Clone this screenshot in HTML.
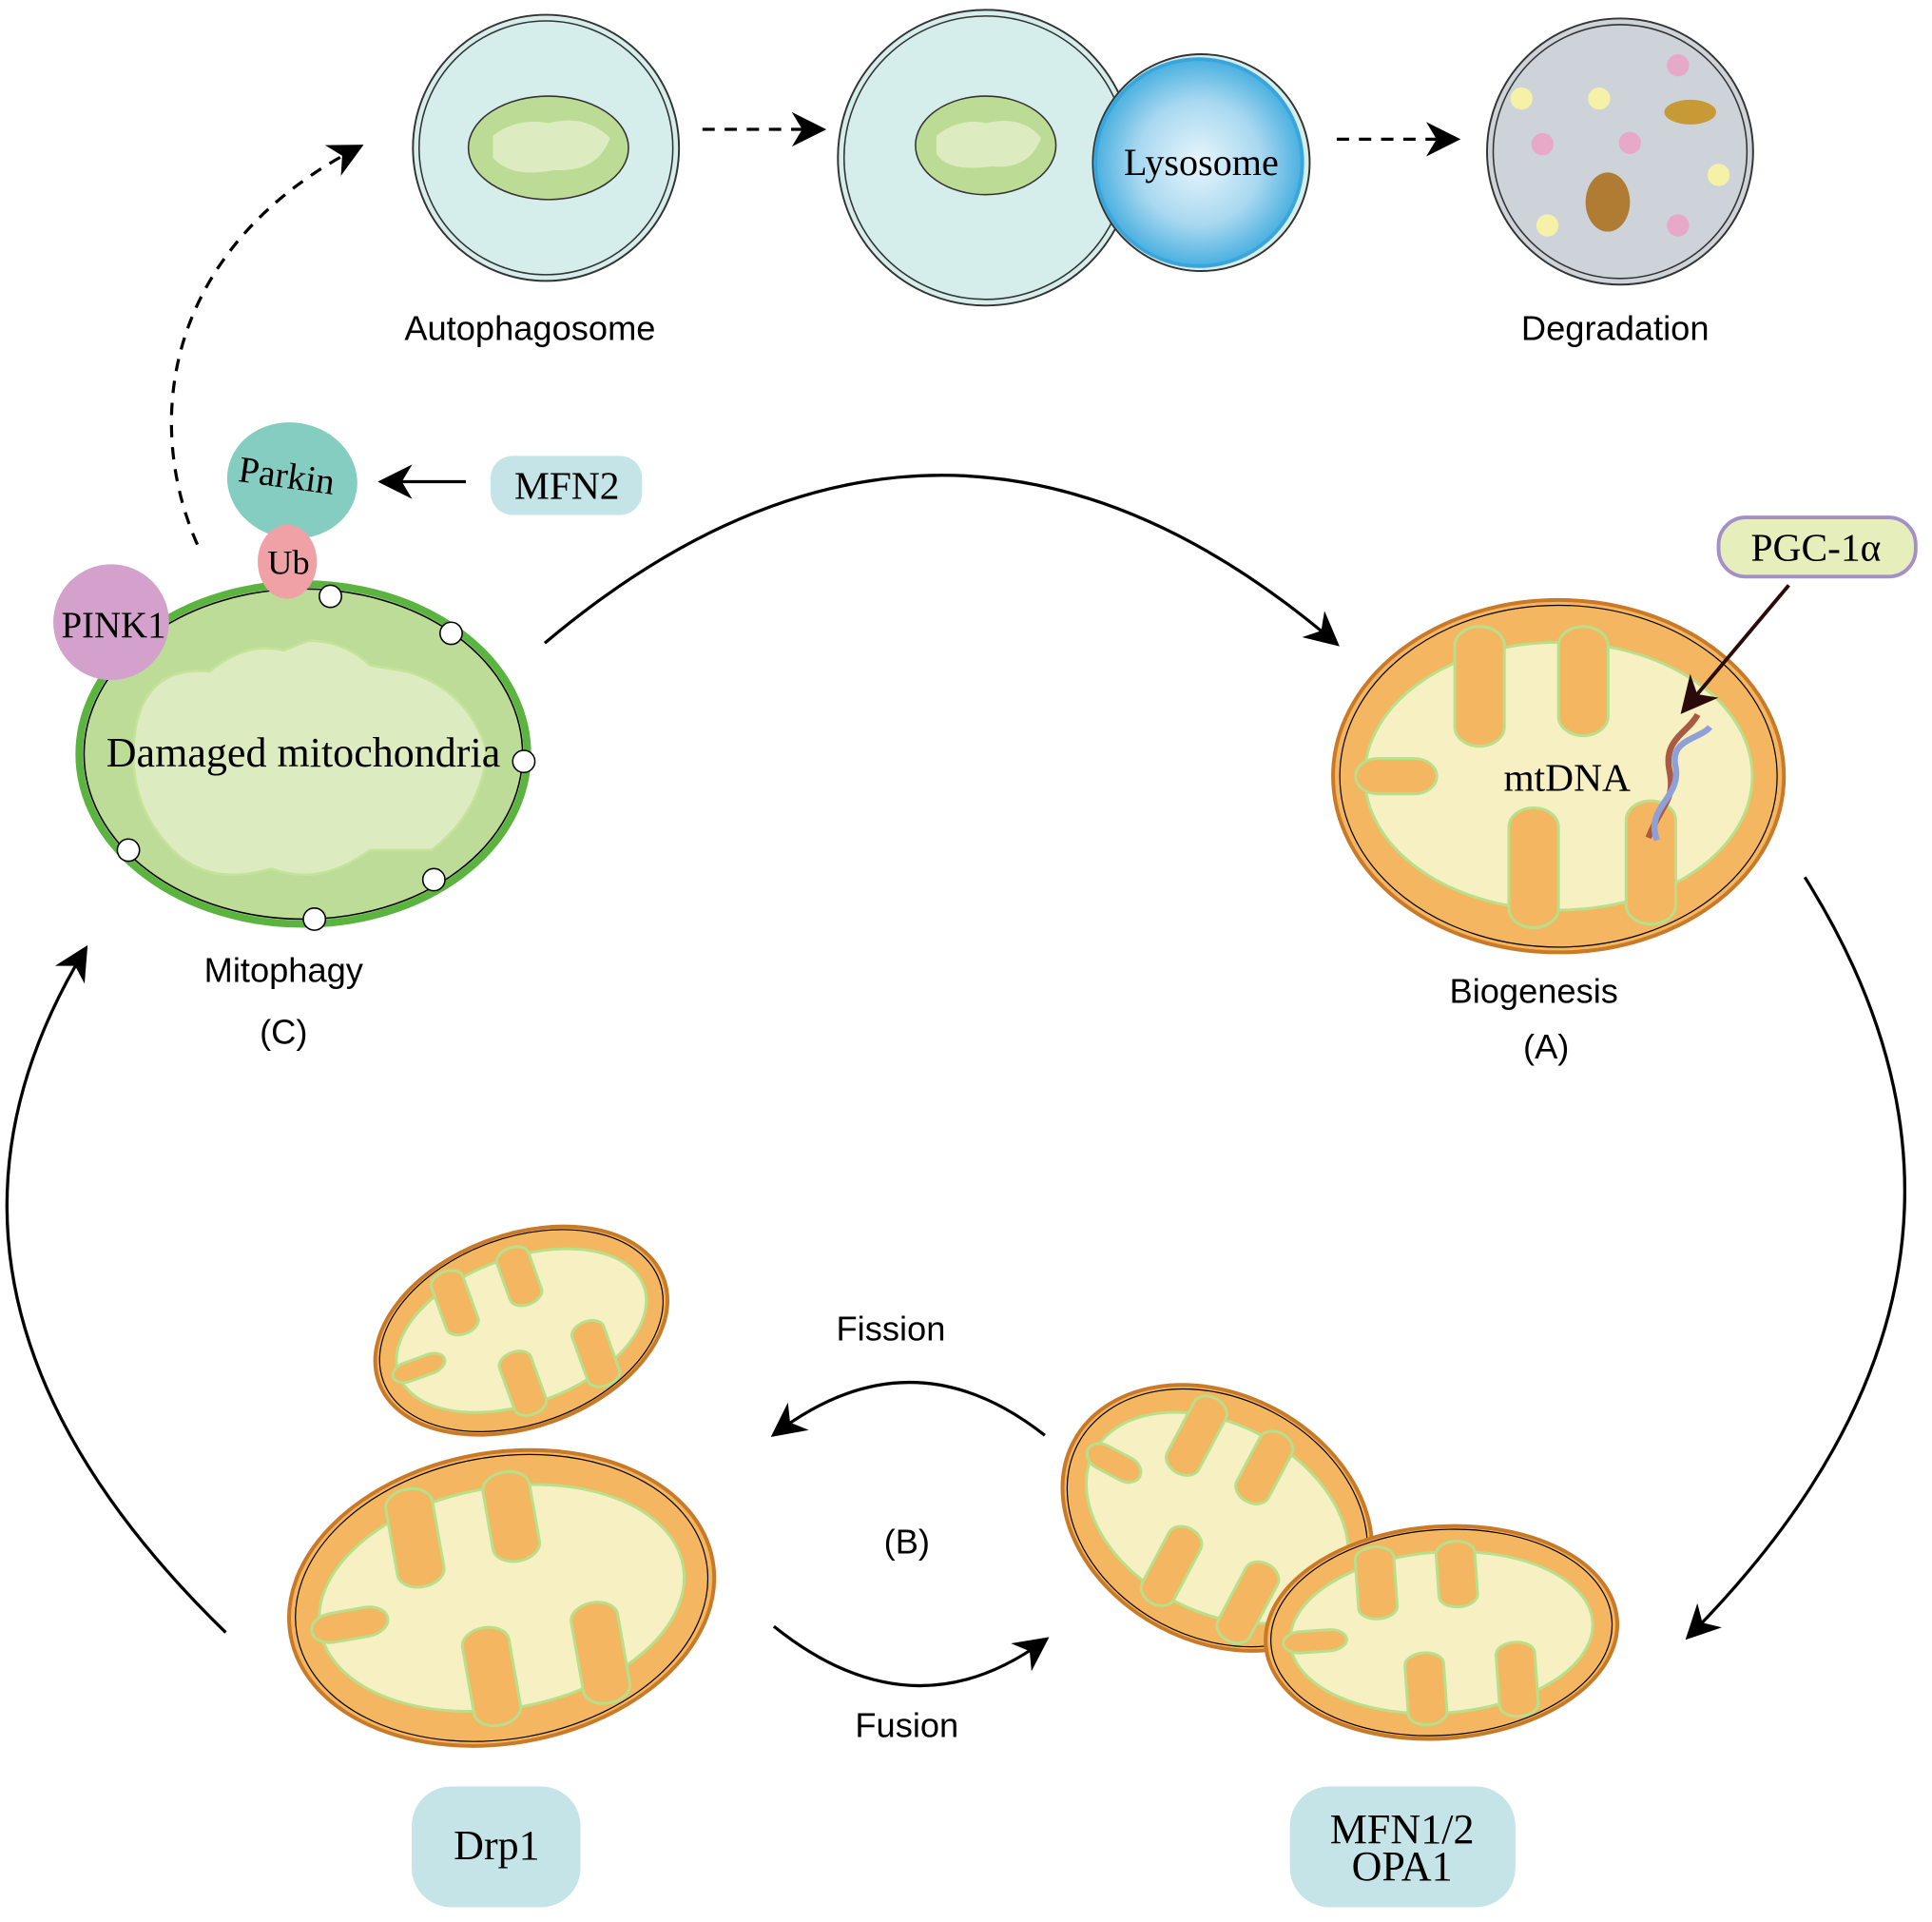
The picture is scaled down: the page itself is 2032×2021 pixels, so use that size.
<!DOCTYPE html>
<html><head><meta charset="utf-8"><style>html,body{margin:0;padding:0;background:#fff}svg{display:block}</style></head>
<body>
<svg width="2032" height="2021" viewBox="0 0 1568 1560" xmlns="http://www.w3.org/2000/svg">
<defs>
<marker id="ahb" viewBox="0 0 10 10" refX="8" refY="5" markerWidth="28" markerHeight="28" orient="auto" markerUnits="userSpaceOnUse"><path d="M0,0 L10,5 L0,10 L3,5 z" fill="#000"/></marker>
<marker id="ahd" viewBox="0 0 10 10" refX="8" refY="5" markerWidth="30" markerHeight="30" orient="auto" markerUnits="userSpaceOnUse"><path d="M0,0 L10,5 L0,10 L3,5 z" fill="#2a0a0a"/></marker>
<radialGradient id="lys" cx="0.5" cy="0.5" r="0.5"><stop offset="0" stop-color="#e8f6fc"/><stop offset="0.6" stop-color="#a8d8f0"/><stop offset="1" stop-color="#4ab0e0"/></radialGradient>
<g id="mito">
<circle r="100" fill="#f4b660" stroke="#c97a28" stroke-width="4" vector-effect="non-scaling-stroke"/>
<circle r="97" fill="none" stroke="#000" stroke-width="1.2" vector-effect="non-scaling-stroke"/>
<ellipse rx="86" ry="76" fill="#f7f0c2" stroke="#b8e08a" stroke-width="3" vector-effect="non-scaling-stroke"/>
<g fill="#f4b660" stroke="#b8e08a" stroke-width="3">
<rect x="-46" y="-85" width="22" height="68" rx="11" vector-effect="non-scaling-stroke"/>
<rect x="0" y="-85" width="22" height="62" rx="11" vector-effect="non-scaling-stroke"/>
<rect x="-22" y="18" width="22" height="68" rx="11" vector-effect="non-scaling-stroke"/>
<rect x="30" y="14" width="22" height="70" rx="11" vector-effect="non-scaling-stroke"/>
<rect x="-90" y="-10" width="36" height="20" rx="10" vector-effect="non-scaling-stroke"/>
</g>
</g>
</defs>

<!-- Autophagosome -->
<circle cx="443" cy="120" r="108" fill="#d5eeec" stroke="#333" stroke-width="1.5"/>
<circle cx="443" cy="120" r="103" fill="none" stroke="#333" stroke-width="1.2"/>
<ellipse cx="445" cy="120" rx="65" ry="42" fill="#bcdc95" stroke="#333" stroke-width="1.2"/>
<path d="M400,110 Q420,95 445,100 Q475,92 495,112 Q485,140 450,138 Q415,145 400,128 z" fill="#dcecc0"/>
<text x="430" y="276" font-family="Liberation Sans, sans-serif" font-size="28" text-anchor="middle">Autophagosome</text>

<!-- Fusion with lysosome -->
<circle cx="800" cy="128" r="120" fill="#d5eeec" stroke="#333" stroke-width="1.5"/>
<circle cx="800" cy="128" r="115" fill="none" stroke="#333" stroke-width="1.2"/>
<ellipse cx="800" cy="118" rx="57" ry="40" fill="#bcdc95" stroke="#333" stroke-width="1.2"/>
<path d="M760,110 Q780,95 800,100 Q830,93 845,112 Q835,138 805,135 Q770,140 760,125 z" fill="#dcecc0"/>
<circle cx="975" cy="132" r="88" fill="#d5eeec" stroke="#333" stroke-width="1.5"/>
<circle cx="973" cy="132" r="84" fill="url(#lys)" stroke="#38a6dc" stroke-width="3"/>
<text x="975" y="142" font-family="Liberation Serif, serif" font-size="31" text-anchor="middle">Lysosome</text>

<!-- Degradation -->
<circle cx="1315" cy="123" r="108" fill="#cdd3d8" stroke="#333" stroke-width="1.5"/>
<circle cx="1315" cy="123" r="103" fill="none" stroke="#333" stroke-width="1.2"/>
<g fill="#f5f2a8"><circle cx="1235" cy="80" r="9"/><circle cx="1298" cy="80" r="9"/><circle cx="1395" cy="142" r="9"/><circle cx="1256" cy="183" r="9"/></g>
<g fill="#e8a8c8"><circle cx="1362" cy="53" r="9"/><circle cx="1252" cy="117" r="9"/><circle cx="1323" cy="116" r="9"/><circle cx="1362" cy="183" r="9"/></g>
<ellipse cx="1372" cy="91" rx="21" ry="10" fill="#c89a35"/>
<ellipse cx="1305" cy="164" rx="18" ry="24" fill="#b07b32"/>
<text x="1311" y="276" font-family="Liberation Sans, sans-serif" font-size="28" text-anchor="middle">Degradation</text>

<!-- dashed arrows -->
<g stroke="#000" stroke-width="2.5" fill="none" stroke-dasharray="10,8">
<path d="M570,105 L665,105" marker-end="url(#ahb)"/>
<path d="M1085,113 L1180,113" marker-end="url(#ahb)"/>
<path d="M160,442 C115,340 135,200 290,120" marker-end="url(#ahb)"/>
</g>

<!-- Damaged mitochondria -->
<ellipse cx="246" cy="612" rx="182" ry="138" fill="#bddc97" stroke="#5bb340" stroke-width="6"/>
<ellipse cx="246" cy="612" rx="178" ry="134" fill="none" stroke="#000" stroke-width="1.2"/>
<path d="M110,590 Q120,540 170,545 Q200,520 230,528 L250,520 Q280,520 300,540 L330,545 Q380,560 395,610 Q390,660 350,690 L300,690 Q260,720 220,705 Q170,720 140,690 Q100,650 110,590 z" fill="#dcecc0" stroke="#c6e39a" stroke-width="2"/>
<g fill="#fff" stroke="#000" stroke-width="1.2"><circle cx="268" cy="484" r="9"/><circle cx="366" cy="514" r="9"/><circle cx="425" cy="618" r="9"/><circle cx="352" cy="714" r="9"/><circle cx="255" cy="746" r="9"/><circle cx="104" cy="690" r="9"/></g>
<text x="246" y="622" font-family="Liberation Serif, serif" font-size="34" text-anchor="middle">Damaged mitochondria</text>
<circle cx="90" cy="505" r="47" fill="#d4a1cc"/>
<text x="92" y="517" font-family="Liberation Serif, serif" font-size="30" text-anchor="middle">PINK1</text>
<ellipse cx="237" cy="390" rx="53" ry="47" fill="#86cdc1" transform="rotate(10 237 390)"/>
<text x="232" y="396" font-family="Liberation Serif, serif" font-size="30" text-anchor="middle" transform="rotate(8 232 390)">Parkin</text>
<ellipse cx="233" cy="456" rx="24" ry="30" fill="#f0a1a6"/>
<text x="234" y="466" font-family="Liberation Serif, serif" font-size="28" text-anchor="middle">Ub</text>
<rect x="398" y="370" width="123" height="48" rx="18" fill="#c4e4e8"/>
<text x="460" y="405" font-family="Liberation Serif, serif" font-size="32" text-anchor="middle">MFN2</text>
<path d="M378,391 L312,391" stroke="#000" stroke-width="2.5" marker-end="url(#ahb)"/>
<text x="230" y="797" font-family="Liberation Sans, sans-serif" font-size="28" text-anchor="middle">Mitophagy</text>
<text x="230" y="847" font-family="Liberation Sans, sans-serif" font-size="28" text-anchor="middle">(C)</text>

<!-- big arcs -->
<g stroke="#000" stroke-width="2.5" fill="none">
<path d="M442,522 Q765,250 1083,521" marker-end="url(#ahb)"/>
<path d="M1465,712 Q1665,1030 1372,1327" marker-end="url(#ahb)"/>
<path d="M183,1325 Q-100,1050 68,772" marker-end="url(#ahb)"/>
<path d="M848,1165 Q740,1080 630,1163" marker-end="url(#ahb)"/>
<path d="M628,1320 Q740,1410 847,1332" marker-end="url(#ahb)"/>
</g>

<!-- Biogenesis mito -->
<use href="#mito" transform="translate(1265,630) scale(1.83,1.43)"/>
<path d="M1338,680 C1350,650 1360,650 1355,625 C1350,600 1370,595 1378,580" stroke="#a85a45" stroke-width="5" fill="none"/>
<path d="M1345,682 C1335,655 1365,648 1360,622 C1355,600 1380,600 1388,590" stroke="#8fa0d8" stroke-width="5" fill="none"/>
<text x="1272" y="642" font-family="Liberation Serif, serif" font-size="32" text-anchor="middle">mtDNA</text>
<rect x="1395" y="420" width="160" height="48" rx="22" fill="#e6eebb" stroke="#a58fc8" stroke-width="3"/>
<text x="1474" y="455" font-family="Liberation Serif, serif" font-size="32" text-anchor="middle">PGC-1α</text>
<path d="M1452,475 L1368,575" stroke="#2a0a0a" stroke-width="3" marker-end="url(#ahd)"/>
<text x="1245" y="814" font-family="Liberation Sans, sans-serif" font-size="28" text-anchor="middle">Biogenesis</text>
<text x="1255" y="859" font-family="Liberation Sans, sans-serif" font-size="28" text-anchor="middle">(A)</text>

<!-- Fission/Fusion -->
<use href="#mito" transform="translate(423,1080) rotate(-20) scale(1.23,0.78)"/>
<use href="#mito" transform="translate(407,1297) rotate(-10) scale(1.74,1.18)"/>
<use href="#mito" transform="translate(988,1232) rotate(28) scale(1.32,1.0)"/>
<use href="#mito" transform="translate(1170,1325) rotate(-4) scale(1.43,0.86)"/>
<text x="723" y="1088" font-family="Liberation Sans, sans-serif" font-size="28" text-anchor="middle">Fission</text>
<text x="736" y="1261" font-family="Liberation Sans, sans-serif" font-size="28" text-anchor="middle">(B)</text>
<text x="736" y="1410" font-family="Liberation Sans, sans-serif" font-size="28" text-anchor="middle">Fusion</text>
<rect x="334" y="1450" width="137" height="98" rx="32" fill="#c4e4e8"/>
<text x="403" y="1509" font-family="Liberation Serif, serif" font-size="34" text-anchor="middle">Drp1</text>
<rect x="1047" y="1450" width="183" height="98" rx="32" fill="#c4e4e8"/>
<text x="1138" y="1496" font-family="Liberation Serif, serif" font-size="34" text-anchor="middle">MFN1/2</text>
<text x="1138" y="1526" font-family="Liberation Serif, serif" font-size="34" text-anchor="middle">OPA1</text>
</svg>
</body></html>
